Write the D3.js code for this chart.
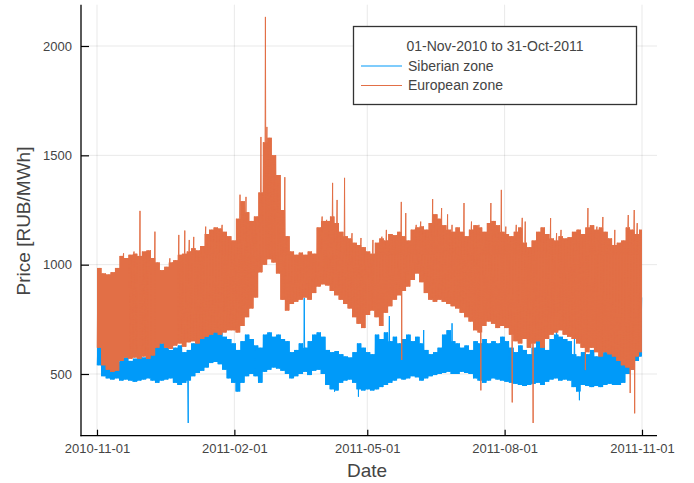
<!DOCTYPE html>
<html>
<head>
<meta charset="utf-8">
<script src="https://cdn.jsdelivr.net/npm/d3@7"></script>
<style>
  html, body { margin: 0; padding: 0; background: #fff; }
  svg { display: block; font-family: "Liberation Sans", Arial, Helvetica, sans-serif; }
</style>
</head>
<body>
<svg id="chart" width="694" height="483"></svg>
<script>
// Hourly day-ahead prices, summarised as the daily low/high range per 3-day block,
// plus the individual hours that break out of that range.
const startDate = "2010-11-01";
const endDate = "2011-11-01";
const binDays = 3;

const europeanHigh = [
  985, 960, 955, 965, 985, 1040, 1030, 1045, 1050, 1040,
  1060, 1065, 1030, 1010, 975, 990, 1010, 1020, 1045, 1050,
  1060, 1075, 1065, 1085, 1140, 1160, 1170, 1165, 1150, 1130,
  1110, 1210, 1290, 1240, 1200, 1220, 1330, 1560, 1580, 1500,
  1410, 1250, 1130, 1060, 1045, 1055, 1045, 1060, 1050, 1170,
  1200, 1200, 1220, 1190, 1150, 1130, 1120, 1100, 1090, 1080,
  1060, 1050, 1100, 1120, 1110, 1140, 1135, 1150, 1130, 1110,
  1160, 1170, 1175, 1160, 1190, 1230, 1210, 1180, 1160, 1150,
  1170, 1150, 1130, 1160, 1180, 1170, 1150, 1190, 1200, 1180,
  1150, 1140, 1130, 1150, 1170, 1100, 1080, 1110, 1150, 1170,
  1140, 1120, 1110, 1130, 1120, 1125, 1150, 1160, 1140, 1170,
  1180, 1160, 1170, 1150, 1120, 1090, 1100, 1110, 1170, 1160,
  1140, 1160
];
const europeanLow = [
  620, 540, 520, 510, 515, 560, 575, 570, 575, 570,
  580, 570, 585, 620, 640, 620, 615, 630, 640, 625,
  645, 650, 640, 660, 670, 680, 690, 680, 690, 700,
  700, 690, 720, 760, 800, 850, 965, 1000, 1025, 1010,
  960, 840, 790, 820, 830, 840, 850, 840, 870, 900,
  910, 905, 880, 860, 840, 820, 800, 760, 730, 710,
  770, 790, 760, 720, 780, 810, 840, 860, 880, 900,
  930, 960, 920, 870, 840, 830, 840, 830, 820, 810,
  800, 780, 760, 740, 700, 690, 720, 740, 730, 710,
  720, 710, 680, 650, 640, 660, 620, 640, 650, 620,
  660, 680, 690, 700, 680, 670, 660, 640, 620, 600,
  620, 600, 580, 600, 590, 580, 560, 540, 530, 520,
  580, 600
];
const siberianHigh = [
  640, 610, 600, 560, 555, 570, 575, 560, 570, 580,
  575, 590, 620, 650, 640, 620, 610, 620, 630, 600,
  610, 640, 660, 670, 680, 690, 695, 690, 670, 660,
  640, 610, 650, 680, 660, 630, 620, 680, 690, 670,
  680, 660, 650, 600, 610, 640, 620, 650, 680, 690,
  670, 610, 600, 605, 590, 580, 575, 600, 640, 620,
  600, 590, 680, 660, 690, 650, 670, 640, 660, 680,
  650, 670, 640, 610, 590, 600, 620, 680, 700, 650,
  640, 620, 630, 610, 650, 640, 660, 640, 650, 640,
  670, 650, 620, 600, 630, 610, 590, 620, 650, 630,
  610, 660, 680, 670, 660, 650, 590, 580, 600, 590,
  610, 580, 590, 600, 620, 600, 640, 650, 630, 660,
  700, 760
];
const siberianLow = [
  540, 490, 480, 475, 480, 470, 475, 470, 465, 470,
  475, 480, 470, 460, 470, 475, 480, 460, 450, 460,
  470, 490, 505, 515, 530, 550, 555, 545, 520, 480,
  460, 420, 460, 490, 500, 490, 460, 510, 520, 530,
  525, 515, 500, 480, 490, 500, 510, 495, 515, 520,
  500, 450, 430, 425, 460, 470, 475, 460, 430, 425,
  430, 425, 430, 440, 450, 460, 470, 480, 475, 480,
  490, 485, 470, 480, 490, 495, 500, 505, 510, 500,
  500, 510, 505, 500, 480, 470, 460, 470, 480, 475,
  470, 465, 460, 455, 450, 445, 450, 455, 460, 450,
  465, 475, 480, 470, 475, 470, 440, 420, 450, 445,
  440, 445, 440, 450, 455, 450, 450, 460, 500, 520,
  560, 580
];

// Single hours outside the daily range: [date and hour (UTC), price]
const europeanSpikes = [
  ["2010-11-18T19", 1052], ["2010-11-25T19", 1060], ["2010-11-29T19", 1246],
  ["2010-12-06T19", 1067], ["2010-12-09T19", 1151], ["2010-12-19T19", 1029],
  ["2010-12-25T19", 1136], ["2010-12-29T19", 1156], ["2011-01-01T19", 1113],
  ["2011-01-04T19", 1127], ["2011-01-12T19", 1174], ["2011-01-23T19", 1182],
  ["2011-02-04T19", 1320], ["2011-02-08T19", 1310], ["2011-02-18T19", 1584],
  ["2011-02-21T19", 2133], ["2011-02-22T19", 1630], ["2011-03-06T19", 1400],
  ["2011-03-31T19", 1220], ["2011-04-03T19", 1205], ["2011-04-07T19", 1374],
  ["2011-04-10T19", 1296], ["2011-04-15T19", 1397], ["2011-04-20T19", 1144],
  ["2011-04-26T19", 1122], ["2011-05-04T19", 1113], ["2011-05-10T19", 1128],
  ["2011-05-13T19", 1159], ["2011-05-23T19", 1287], ["2011-05-24T02", 564],
  ["2011-05-26T19", 1236], ["2011-06-02T19", 1182], ["2011-06-05T19", 1197],
  ["2011-06-13T19", 1300], ["2011-06-19T19", 1259], ["2011-06-23T19", 1230],
  ["2011-06-26T19", 1182], ["2011-07-04T19", 1282], ["2011-07-09T19", 1197],
  ["2011-07-14T19", 1182], ["2011-07-16T02", 425],  ["2011-07-22T19", 1282],
  ["2011-07-29T19", 1342], ["2011-08-01T19", 1174], ["2011-08-06T02", 370],
  ["2011-08-08T19", 1182], ["2011-08-12T19", 1214], ["2011-08-14T19", 1197],
  ["2011-08-20T02", 276],  ["2011-08-31T19", 1213], ["2011-09-04T19", 1144],
  ["2011-09-07T19", 1159], ["2011-09-18T19", 1159], ["2011-09-24T02", 518],
  ["2011-09-25T19", 1259], ["2011-10-01T19", 1174], ["2011-10-05T19", 1218],
  ["2011-10-13T19", 1159], ["2011-10-22T19", 1227], ["2011-10-24T02", 413],
  ["2011-10-26T19", 1250], ["2011-10-27T02", 320],  ["2011-10-28T19", 1190]
];
const siberianSpikes = [
  ["2010-12-10T19", 670], ["2011-01-01T02", 276], ["2011-03-19T19", 848],
  ["2011-04-09T02", 419], ["2011-04-25T02", 396], ["2011-05-15T19", 765],
  ["2011-06-07T19", 701], ["2011-06-26T19", 732], ["2011-09-04T19", 701],
  ["2011-09-16T19", 687], ["2011-09-20T02", 380], ["2011-10-31T19", 850]
];

const yTicks = [500, 1000, 1500, 2000];
const xTickLabels = ["2010-11-01", "2011-02-01", "2011-05-01", "2011-08-01", "2011-11-01"];

const legendTitle = "01-Nov-2010 to 31-Oct-2011";
const seriesNames = ["Siberian zone", "European zone"];
const seriesColors = ["#009af9", "#e26f46"];

// ---- layout ----
const plotLeft = 81, plotRight = 657, plotTop = 4.7, plotBottom = 435.7;
const textColor = "#444";

const parseDay = d3.utcParse("%Y-%m-%d");
const parseHour = d3.utcParse("%Y-%m-%dT%H");
const t0 = parseDay(startDate), t1 = parseDay(endDate);
const nDays = d3.utcDay.count(t0, t1);
const lastHour = d3.utcHour.offset(t1, -1);

const x = d3.scaleUtc().domain([t0, t1]).range([97, 642]);
const y = d3.scaleLinear().domain([500, 2000]).range([374, 46]);

// daily swing: low in the night hours, high in the afternoon
function buildSeries(lows, highs, spikes) {
  const pts = [];
  lows.forEach((lo, i) => {
    for (let k = 0; k < binDays; k++) {
      const day = i * binDays + k;
      if (day >= nDays) break;
      const base = d3.utcDay.offset(t0, day);
      pts.push([d3.utcHour.offset(base, 4), lo]);
      pts.push([d3.utcHour.offset(base, 14), highs[i]]);
    }
  });
  spikes.forEach(([t, v]) => pts.push([parseHour(t), v]));
  pts.sort((a, b) => a[0] - b[0]);
  return pts;
}

// block-wise range band covered by the daily swings
function buildBand(lows, highs) {
  const band = lows.map((lo, i) => ({
    t: d3.utcDay.offset(t0, i * binDays), lo, hi: highs[i]
  }));
  const last = band[band.length - 1];
  band.push({ t: lastHour, lo: last.lo, hi: last.hi });
  return band;
}

const siberian = buildSeries(siberianLow, siberianHigh, siberianSpikes);
const european = buildSeries(europeanLow, europeanHigh, europeanSpikes);
const siberianBand = buildBand(siberianLow, siberianHigh);
const europeanBand = buildBand(europeanLow, europeanHigh);

const svg = d3.select("#chart");

// grid
const grid = svg.append("g").attr("stroke", "#000").attr("stroke-opacity", 0.09).attr("stroke-width", 1);
yTicks.forEach(v => grid.append("line")
  .attr("x1", plotLeft).attr("x2", plotRight).attr("y1", y(v)).attr("y2", y(v)));
const xTickDates = xTickLabels.map(parseDay);
xTickDates.forEach(d => grid.append("line")
  .attr("x1", x(d)).attr("x2", x(d)).attr("y1", plotTop).attr("y2", plotBottom));

// series
const line = d3.line().x(d => x(d[0])).y(d => y(d[1]));
const area = d3.area().curve(d3.curveStepAfter)
  .x(d => x(d.t)).y0(d => y(d.lo)).y1(d => y(d.hi));
[[siberian, siberianBand], [european, europeanBand]].forEach(([data, band], i) => {
  svg.append("path")
    .datum(band)
    .attr("d", area)
    .attr("fill", seriesColors[i]);
  svg.append("path")
    .datum(data)
    .attr("d", line)
    .attr("fill", "none")
    .attr("stroke", seriesColors[i])
    .attr("stroke-width", 1)
    .attr("stroke-linejoin", "round");
});

// axes
const yAxis = d3.axisLeft(y).tickValues(yTicks).tickSize(-8).tickPadding(9).tickFormat(d3.format("d"));
const gy = svg.append("g").attr("transform", `translate(${plotLeft},0)`).call(yAxis);
const xAxis = d3.axisBottom(x).tickValues(xTickDates).tickSize(-6).tickPadding(8)
  .tickFormat(d3.utcFormat("%Y-%m-%d"));
const gx = svg.append("g").attr("transform", `translate(0,${plotBottom})`).call(xAxis);

[gx, gy].forEach(g => {
  g.select(".domain").remove();
  g.selectAll(".tick line").attr("stroke", "#000").attr("stroke-width", 1.2);
  g.selectAll(".tick text").attr("fill", textColor).style("font-size", "13px");
});

svg.append("line").attr("x1", plotLeft).attr("x2", plotLeft)
  .attr("y1", plotTop).attr("y2", plotBottom + 0.6)
  .attr("stroke", "#000").attr("stroke-width", 1.3);
svg.append("line").attr("x1", plotLeft - 0.6).attr("x2", plotRight)
  .attr("y1", plotBottom).attr("y2", plotBottom)
  .attr("stroke", "#000").attr("stroke-width", 1.3);

// axis titles
svg.append("text")
  .attr("x", 367).attr("y", 477.3)
  .attr("text-anchor", "middle")
  .attr("fill", textColor)
  .style("font-size", "19px")
  .text("Date");
svg.append("text")
  .attr("transform", "translate(30,221) rotate(-90)")
  .attr("text-anchor", "middle")
  .attr("fill", textColor)
  .style("font-size", "19px")
  .text("Price [RUB/MWh]");

// legend
const legend = svg.append("g");
legend.append("rect")
  .attr("x", 353.5).attr("y", 26.5).attr("width", 283).attr("height", 78)
  .attr("fill", "#fff").attr("stroke", "#333").attr("stroke-width", 1.3);
legend.append("text")
  .attr("x", 495).attr("y", 51)
  .attr("text-anchor", "middle")
  .attr("fill", textColor)
  .style("font-size", "14px")
  .text(legendTitle);
seriesNames.forEach((name, i) => {
  const ly = 66 + i * 19.5;
  legend.append("line")
    .attr("x1", 361).attr("x2", 402).attr("y1", ly).attr("y2", ly)
    .attr("stroke", seriesColors[i]).attr("stroke-width", 1.2);
  legend.append("text")
    .attr("x", 408).attr("y", ly + 4.7)
    .attr("fill", textColor)
    .style("font-size", "14px")
    .text(name);
});
</script>
</body>
</html>
